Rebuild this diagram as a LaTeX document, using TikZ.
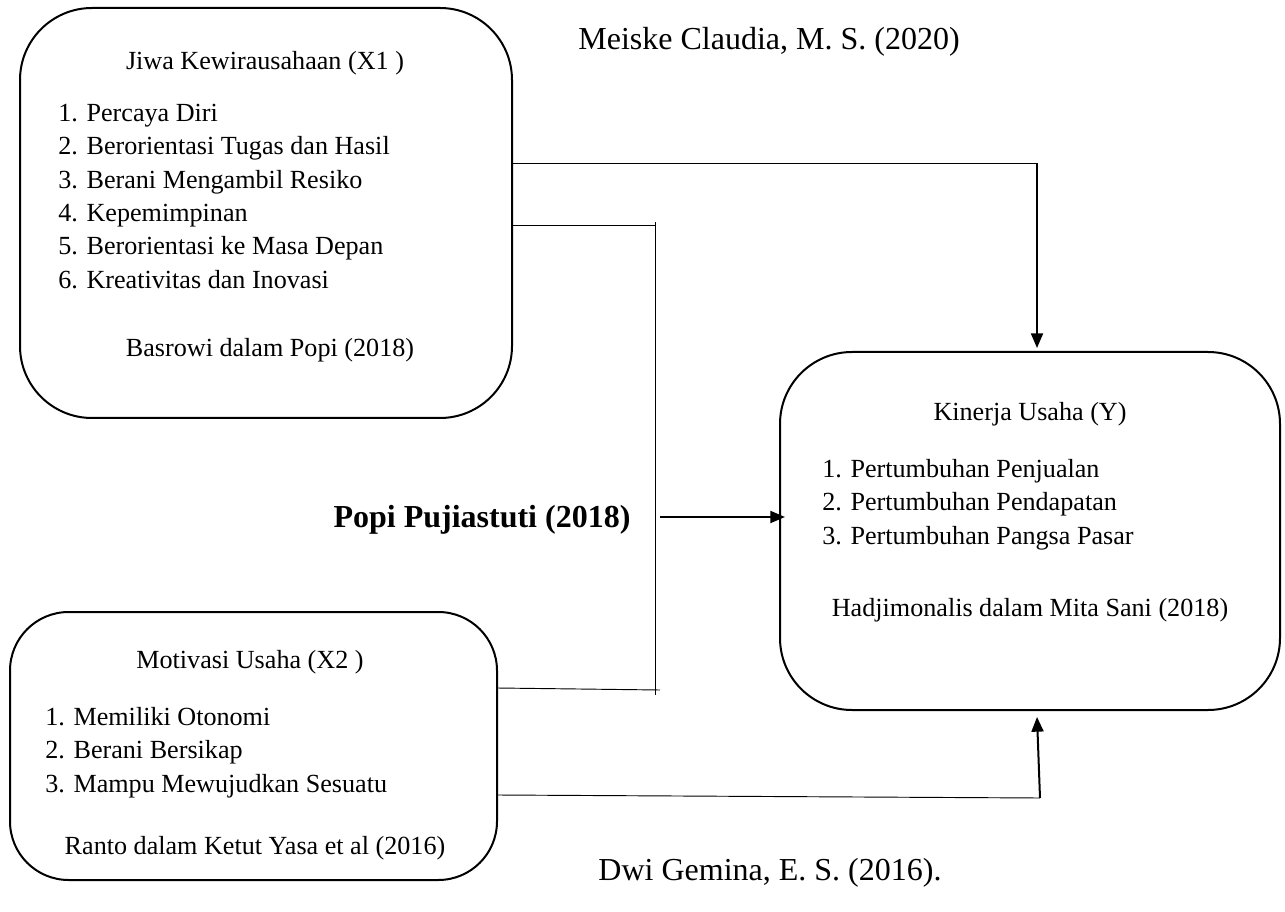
\documentclass[tikz,border=0pt]{standalone}
\usepackage{fontspec}
\setmainfont{Liberation Serif}
\usetikzlibrary{arrows.meta}
\begin{document}
\begin{tikzpicture}[x=0.75pt,y=-0.75pt,
  box/.style={draw,line width=1.5pt,rounded corners=54pt},
  txt/.style={inner sep=0pt,font=\fontsize{19.6}{25}\selectfont},
  lst/.style={txt,anchor=north west,align=left},
  big/.style={inner sep=0pt,font=\fontsize{24}{28}\selectfont},
  thin/.style={draw,line width=0.7pt},
  arr/.style={draw,line width=1.5pt,-{Triangle[length=11pt,width=9pt]}}]
\useasboundingbox (0,0) rectangle (1285,912);
% boxes
\draw[box] (20,8) rectangle (512,418);
\draw[box] (780,352) rectangle (1280,710);
\draw[box,rounded corners=44pt] (10,612) rectangle (497,880);
\coordinate (x1a) at (512,163);
\coordinate (x1b) at (512,225);
\coordinate (x2a) at (497,688);
\coordinate (x2b) at (497,795);
% texts box X1
\node[txt] (t1) at (265,63) {Jiwa Kewirausahaan (X1 )};
\node[lst] (l1) at (58,104) {1. Percaya Diri\\2. Berorientasi Tugas dan Hasil\\3. Berani Mengambil Resiko\\4. Kepemimpinan\\5. Berorientasi ke Masa Depan\\6. Kreativitas dan Inovasi};
\node[txt] (s1) at (270,350) {Basrowi dalam Popi (2018)};
% texts box Y
\node[txt] (t3) at (1030,414) {Kinerja Usaha (Y)};
\node[lst] (l3) at (822,459) {1. Pertumbuhan Penjualan\\2. Pertumbuhan Pendapatan\\3. Pertumbuhan Pangsa Pasar};
\node[txt] (s3) at (1030,610) {Hadjimonalis dalam Mita Sani (2018)};
% texts box X2
\node[txt] (t2) at (250,662) {Motivasi Usaha (X2 )};
\node[lst] (l2) at (45,707) {1. Memiliki Otonomi\\2. Berani Bersikap\\3. Mampu Mewujudkan Sesuatu};
\node[txt] (s2) at (255,848) {Ranto dalam Ketut Yasa et al (2016)};
% outside labels
\node[big] (m) at (769,42) {Meiske Claudia, M. S. (2020)};
\node[big] (d) at (770,873) {Dwi Gemina, E. S. (2016).};
\node[big,font=\fontsize{24}{28}\selectfont\bfseries] (p) at (482,520) {Popi Pujiastuti (2018)};
% connectors
\coordinate (c1) at (1037,163);
\coordinate (c1e) at (1037,348);
\draw[thin] (x1a) -- (c1);
\draw[arr] (c1) -- (c1e);
\coordinate (v1) at (655,225);
\coordinate (v1t) at (655,222);
\coordinate (v1b) at (655,695);
\coordinate (v2) at (660,690);
\draw[thin] (x1b) -- (v1);
\draw[thin] (v1t) -- (v1b);
\draw[thin] (x2a) -- (v2);
\coordinate (pa) at (660,517);
\coordinate (pb) at (785,517);
\draw[arr] (pa) -- (pb);
\coordinate (c2) at (1040,798);
\coordinate (c2e) at (1037,717);
\draw[thin] (x2b) -- (c2);
\draw[arr] (c2) -- (c2e);
\end{tikzpicture}
\end{document}
